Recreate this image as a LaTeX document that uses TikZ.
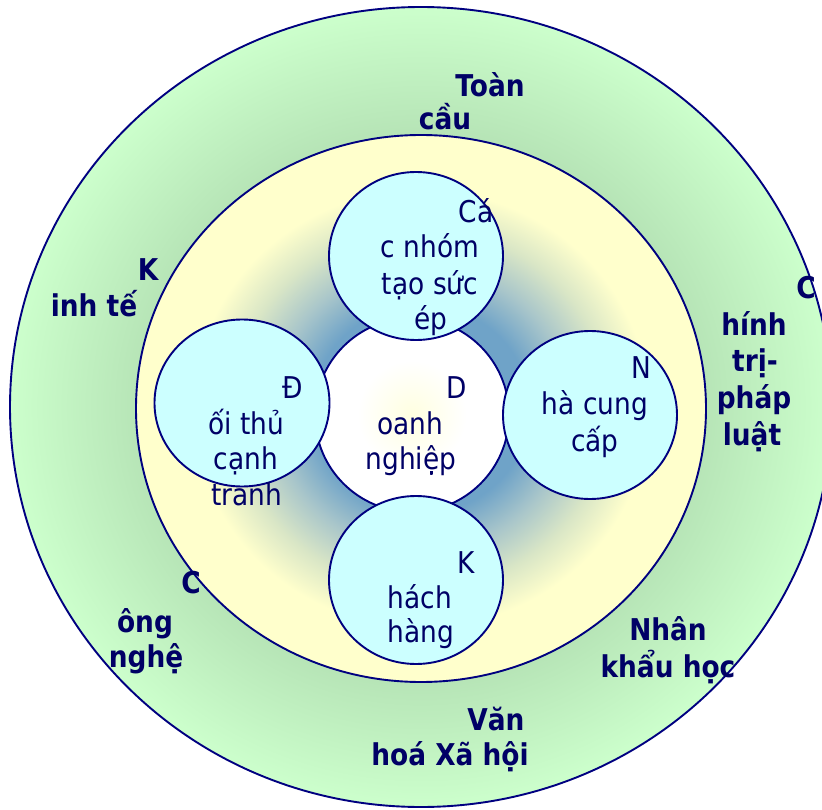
\documentclass[tikz,border=0pt]{standalone}
\usepackage{fontspec}
\setmainfont{DejaVu Sans}[FakeStretch=0.88]
\definecolor{navy}{HTML}{000066}
\definecolor{lineblue}{HTML}{000080}
\definecolor{gl}{HTML}{CCFFCC}
\definecolor{gd}{HTML}{B6E4B6}
\definecolor{yl}{HTML}{FFFFCC}
\definecolor{gb}{HTML}{6FA3C8}
\definecolor{gmid}{HTML}{A9C6CA}
\definecolor{gmid2}{HTML}{D9E6C6}
\definecolor{cy}{HTML}{CCFFFF}
\definecolor{wy}{HTML}{FFFFE0}
\pgfdeclareradialshading{greenring}{\pgfpoint{0bp}{0bp}}{color(0bp)=(gd); color(17bp)=(gd); color(25bp)=(gl); color(50bp)=(gl)}
\pgfdeclareradialshading{glow}{\pgfpoint{0bp}{0bp}}{color(0bp)=(gb); color(9.5bp)=(gb); color(13bp)=(gmid); color(16.5bp)=(gmid2); color(20bp)=(yl); color(50bp)=(yl)}
\pgfdeclareradialshading{core}{\pgfpoint{0bp}{0bp}}{color(0bp)=(wy); color(14bp)=(white); color(50bp)=(white)}
\tikzset{
  outline/.style={draw=lineblue, line width=1.9pt},
  circ/.style={outline, fill=cy},
  lab/.style={text=navy, font=\fontsize{30}{36}\selectfont, anchor=base, inner sep=0pt},
  blab/.style={lab, font=\fontsize{30}{36}\selectfont\bfseries},
}
\begin{document}
\begin{tikzpicture}[x=1pt,y=-1pt]
\useasboundingbox (0,0) rectangle (822,810);
% rings
\path[outline, shading=greenring] (421,407) ellipse [x radius=411, y radius=400];
\path[outline, shading=glow] (421,408.5) ellipse [x radius=285, y radius=273.5];
\path[outline, shading=core] (412,415) circle [radius=97];
% four circles
\path[circ] (416,256) ellipse [x radius=87, y radius=84];
\path[circ] (242,403) ellipse [x radius=87.5, y radius=83.5];
\path[circ] (590,415) ellipse [x radius=87, y radius=84];
\path[circ] (416,580) ellipse [x radius=87, y radius=84];
% outer labels
\node[blab] (toan) at (490,97) {Toàn};
\node[blab] (cau) at (445,130) {cầu};
\node[blab] (k1) at (148,281) {K};
\node[blab] (inhte) at (94,317) {inh tế};
\node[blab] (c1) at (806,299) {C};
\node[blab] (hinh) at (754,336) {hính};
\node[blab] (tri) at (755,371) {trị-};
\node[blab] (phap) at (754,408) {pháp};
\node[blab] (luat) at (752,445) {luật};
\node[blab] (c2) at (191,593) {C};
\node[blab] (ong) at (145,632) {ông};
\node[blab] (nghe) at (146,667) {nghệ};
\node[blab] (nhan) at (668,640) {Nhân};
\node[blab] (khau) at (668,677) {khẩu học};
\node[blab] (van) at (496,730) {Văn};
\node[blab] (hoa) at (450,765) {hoá Xã hội};
% inner labels
\node[lab] (ca) at (476,223) {Cá};
\node[lab] (cnhom) at (430,258) {c nhóm};
\node[lab] (tao) at (430,295) {tạo sức};
\node[lab] (ep) at (431,330) {ép};
\node[lab] (dd) at (293,398) {Đ};
\node[lab] (oi) at (246,434) {ối thủ};
\node[lab] (canh) at (246,469) {cạnh};
\node[lab] (tranh) at (247,505) {tranh};
\node[lab] (d) at (457,398) {D};
\node[lab] (oanh) at (410,434) {oanh};
\node[lab] (nghiep) at (411,469) {nghiệp};
\node[lab] (n) at (641,378) {N};
\node[lab] (hacung) at (595,414) {hà cung};
\node[lab] (cap) at (595,451) {cấp};
\node[lab] (k2) at (466,573) {K};
\node[lab] (hach) at (420,608) {hách};
\node[lab] (hang) at (421,642) {hàng};
\end{tikzpicture}
\end{document}
